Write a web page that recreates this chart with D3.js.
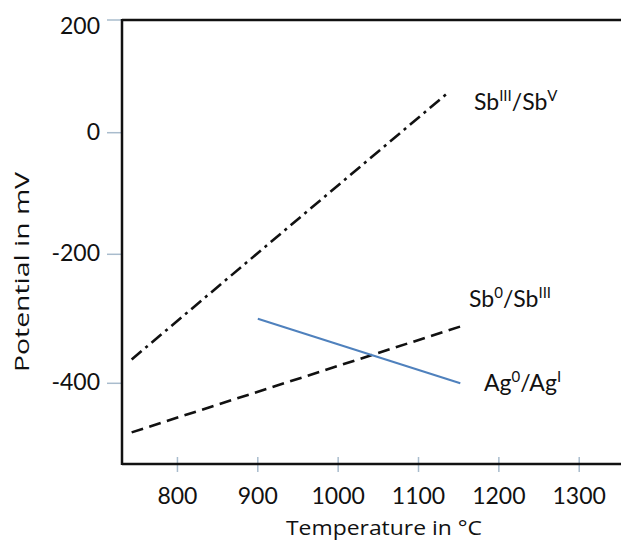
<!DOCTYPE html>
<html>
<head>
<meta charset="utf-8">
<script src="https://cdn.jsdelivr.net/npm/d3@7"></script>
<style>
	html, body { margin: 0; padding: 0; background: #fff; }
	svg text { font-family: Lato, "Open Sans", sans-serif; fill: #111; }
	svg text.title { font-family: "Open Sans", Lato, sans-serif; }
</style>
</head>
<body>
<div id="chart"></div>
<script>
	// tick values
	var xTicks = [800, 900, 1000, 1100, 1200, 1300];
	var yTicks = [200, 0, -200, -400];

	// Sb(III)/Sb(V), dash-dot
	var sbIIIVTemp = [743, 1135];
	var sbIIIVPot = [-363, 69];

	// Sb(0)/Sb(III), dashed
	var sb0IIITemp = [743, 1152];
	var sb0IIIPot = [-476, -312];

	// Ag(0)/Ag(I), solid blue
	var agTemp = [900, 1152];
	var agPot = [-300, -400];

	var width = 621;
	var height = 543;

	var svg = d3.select('#chart')
		.append('svg')
		.attr('width', width)
		.attr('height', height);

	var x = d3.scaleLinear()
		.domain([731, 1352])
		.range([122, 621]);

	// the y axis of the original is not evenly spaced, so go piecewise
	var y = d3.scaleLinear()
		.domain([200, 0, -200, -400, -525])
		.range([20, 132.7, 254.3, 383.3, 464]);

	var x0 = x.range()[0], x1 = x.range()[1];
	var yTop = y(200), yBot = y(-525);

	// ticks
	svg.append('g')
		.selectAll('line')
		.data(yTicks)
		.enter()
		.append('line')
		.attr('x1', x0 - 15)
		.attr('x2', x0)
		.attr('y1', function (d) { return y(d); })
		.attr('y2', function (d) { return y(d); })
		.style('stroke', '#a9bccd')
		.style('stroke-width', 1.5);

	svg.append('g')
		.selectAll('line')
		.data(xTicks)
		.enter()
		.append('line')
		.attr('x1', function (d) { return x(d); })
		.attr('x2', function (d) { return x(d); })
		.attr('y1', yBot - 7)
		.attr('y2', yBot + 8)
		.style('stroke', '#a9bccd')
		.style('stroke-width', 1.5);

	// frame: left, top and bottom only
	var frame = svg.append('g')
		.style('stroke', '#111')
		.style('stroke-width', 2.5);
	frame.append('line').attr('x1', x0).attr('x2', x0).attr('y1', yTop - 1).attr('y2', yBot + 1);
	frame.append('line').attr('x1', x0).attr('x2', x1).attr('y1', yTop).attr('y2', yTop);
	frame.append('line').attr('x1', x0).attr('x2', x1).attr('y1', yBot).attr('y2', yBot);

	// tick labels
	svg.append('g')
		.selectAll('text')
		.data(yTicks)
		.enter()
		.append('text')
		.text(function (d) { return d; })
		.attr('x', 100)
		.attr('y', function (d) { return y(d) + (d == 200 ? 14 : 7); })
		.attr('text-anchor', 'end')
		.style('font-size', '23px');

	svg.append('g')
		.selectAll('text')
		.data(xTicks)
		.enter()
		.append('text')
		.text(function (d) { return d; })
		.attr('x', function (d) { return x(d); })
		.attr('y', 504)
		.attr('text-anchor', 'middle')
		.style('font-size', '23px');

	// axis titles (the source image is a little stretched)
	svg.append('text')
		.attr('class', 'title')
		.text('Temperature in °C')
		.attr('x', 384)
		.attr('y', 535)
		.attr('text-anchor', 'middle')
		.attr('textLength', 196)
		.attr('lengthAdjust', 'spacingAndGlyphs')
		.style('font-size', '20px');

	svg.append('g')
		.attr('transform', 'translate(29,272),rotate(-90)')
		.append('text')
		.attr('class', 'title')
		.text('Potential in mV')
		.attr('text-anchor', 'middle')
		.attr('textLength', 200)
		.attr('lengthAdjust', 'spacingAndGlyphs')
		.style('font-size', '20px');

	// curves
	var line = d3.line()
		.x(function (d) { return x(d[0]); })
		.y(function (d) { return y(d[1]); });

	var series = [
		{t: sbIIIVTemp, v: sbIIIVPot, color: '#111', dash: '13,5,3,5'},
		{t: sb0IIITemp, v: sb0IIIPot, color: '#111', dash: '12,6.5'},
		{t: agTemp, v: agPot, color: '#4f81bd', dash: null}
	];

	svg.append('g')
		.selectAll('path')
		.data(series)
		.enter()
		.append('path')
		.attr('d', function (d) { return line(d3.zip(d.t, d.v)); })
		.style('fill', 'none')
		.style('stroke', function (d) { return d.color; })
		.style('stroke-width', function (d) { return d.dash ? 2.6 : 2; })
		.style('stroke-dasharray', function (d) { return d.dash; });

	// labels with superscript oxidation states
	var labels = [
		{x: 474, y: 110, parts: [['Sb', 0], ['III', 1], ['/Sb', 0], ['V', 1]]},
		{x: 469, y: 307, parts: [['Sb', 0], ['0', 1], ['/Sb', 0], ['III', 1]]},
		{x: 484, y: 391, parts: [['Ag', 0], ['0', 1], ['/Ag', 0], ['I', 1]]}
	];

	labels.forEach(function (lb) {
		var t = svg.append('text')
			.attr('x', lb.x)
			.attr('y', lb.y)
			.style('font-size', '23px');
		var up = false;
		lb.parts.forEach(function (p) {
			var s = t.append('tspan').text(p[0]);
			if (p[1] && !up) {
				s.attr('dy', -9).style('font-size', '15px');
				up = true;
			} else if (!p[1] && up) {
				s.attr('dy', 9);
				up = false;
			}
		});
	});
</script>
</body>
</html>
